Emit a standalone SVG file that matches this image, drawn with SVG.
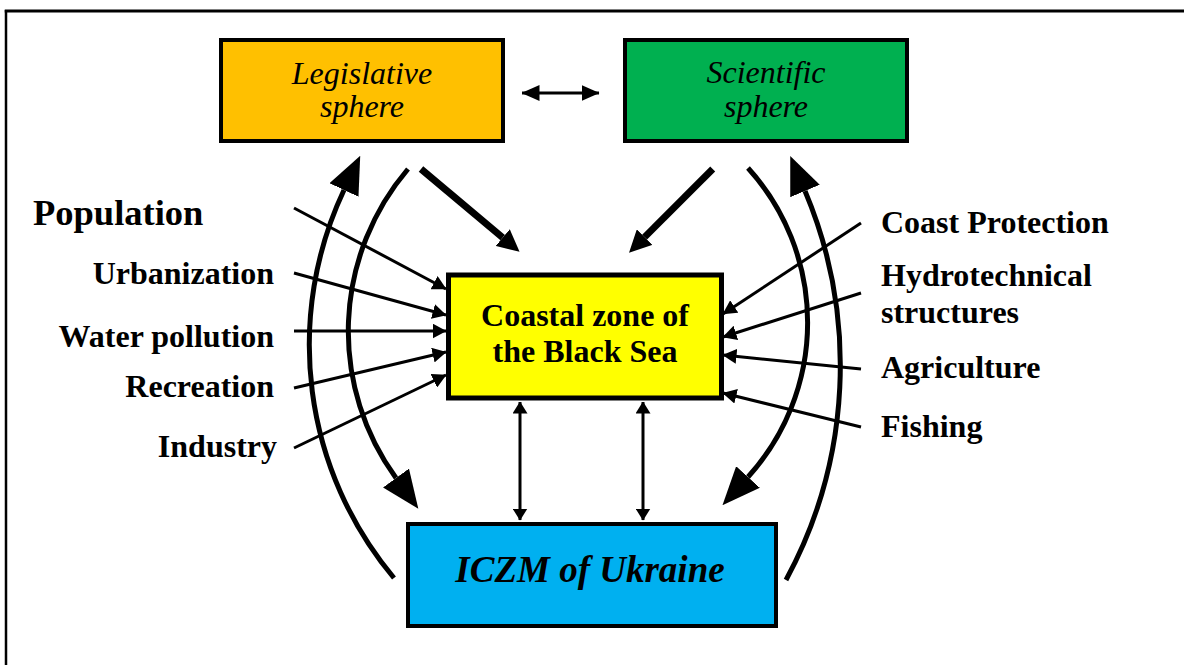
<svg xmlns="http://www.w3.org/2000/svg" width="1184" height="665" viewBox="0 0 1184 665">
<style>
.box{stroke:#000;stroke-width:4}
.it{font-family:"Liberation Serif","Times New Roman",serif;font-style:italic;font-size:32px;fill:#000}
.lb{font-family:"Liberation Serif","Times New Roman",serif;font-weight:bold;font-size:32px;fill:#000}
.big{font-size:36.5px}
.thin{fill:none;stroke:#000;stroke-width:3}
.curve{fill:none;stroke:#000;stroke-width:5}
.thick{fill:none;stroke:#000;stroke-width:7}
</style>
<defs>
<marker id="ah" viewBox="0 0 14 15" refX="13.5" refY="7.5" markerWidth="14" markerHeight="15" markerUnits="userSpaceOnUse" orient="auto-start-reverse"><path d="M0,0 L14,7.5 L0,15 z"/></marker>
<marker id="ahm" viewBox="0 0 18 16" refX="17.5" refY="8" markerWidth="18" markerHeight="16" markerUnits="userSpaceOnUse" orient="auto-start-reverse"><path d="M0,0 L18,8 L0,16 z"/></marker>
<marker id="ahv" viewBox="0 0 12 15" refX="11.5" refY="7.5" markerWidth="12" markerHeight="15" markerUnits="userSpaceOnUse" orient="auto-start-reverse"><path d="M0,0 L12,7.5 L0,15 z"/></marker>
<marker id="aht" viewBox="0 0 22 22" refX="0" refY="11" markerWidth="22" markerHeight="22" markerUnits="userSpaceOnUse" orient="auto"><path d="M0,0 L22,11 L0,22 z"/></marker>
<marker id="ahb" viewBox="0 0 38 32" refX="0" refY="16" markerWidth="38" markerHeight="32" markerUnits="userSpaceOnUse" orient="auto"><path d="M0,0 L38,16 L0,32 z"/></marker>
</defs>
<rect width="1184" height="665" fill="#fff"/>
<g id="frame">
<line x1="6" y1="10" x2="6" y2="670" stroke="#000" stroke-width="2.5"/>
<line x1="4.75" y1="11" x2="1190" y2="11" stroke="#000" stroke-width="3"/>
</g>
<g id="connectors">
<path class="thin" d="M522,93 L599,93" marker-start="url(#ahm)" marker-end="url(#ahm)"/>
<path class="thick" d="M421,169 L502.7,237.6" marker-end="url(#aht)"/>
<path class="thick" d="M712.7,169 L644.6,237.1" marker-end="url(#aht)"/>
<path class="curve" d="M394,578 A363,363 0 0 1 344,190" marker-end="url(#ahb)"/>
<path class="curve" d="M786,580 A450,450 0 0 0 805,191" marker-end="url(#ahb)"/>
<path class="curve" d="M408,169 A250,250 0 0 0 396,478" marker-end="url(#ahb)"/>
<path class="curve" d="M748,168 A230,230 0 0 1 748,477" marker-end="url(#ahb)"/>
<path class="thin" d="M294,208 L446,289" marker-end="url(#ah)"/>
<path class="thin" d="M294,273 L446,315" marker-end="url(#ah)"/>
<path class="thin" d="M294,331 L446,331" marker-end="url(#ah)"/>
<path class="thin" d="M294,388 L446,352" marker-end="url(#ah)"/>
<path class="thin" d="M294,448 L446,375" marker-end="url(#ah)"/>
<path class="thin" d="M861,223 L723,314" marker-end="url(#ah)"/>
<path class="thin" d="M861,293 L723,337" marker-end="url(#ah)"/>
<path class="thin" d="M861,369 L723,355" marker-end="url(#ah)"/>
<path class="thin" d="M861,427 L723,393" marker-end="url(#ah)"/>
<path class="thin" d="M520,402 L520,520" marker-start="url(#ahv)" marker-end="url(#ahv)"/>
<path class="thin" d="M643,402 L643,520" marker-start="url(#ahv)" marker-end="url(#ahv)"/>
</g>
<g id="legislative">
<rect class="box" x="221" y="40" width="282" height="101" fill="#FFC000"/>
<text class="it" x="362" y="84" text-anchor="middle">Legislative</text>
<text class="it" x="362" y="117" text-anchor="middle">sphere</text>
</g>
<g id="scientific">
<rect class="box" x="625" y="40" width="282" height="101" fill="#00B050"/>
<text class="it" x="766" y="83" text-anchor="middle">Scientific</text>
<text class="it" x="766" y="117" text-anchor="middle">sphere</text>
</g>
<g id="coastal">
<rect x="448.5" y="275" width="273" height="123" fill="#FFFF00" stroke="#000" stroke-width="5"/>
<text class="lb" x="585" y="326" text-anchor="middle">Coastal zone of</text>
<text class="lb" x="585" y="362" text-anchor="middle">the Black Sea</text>
</g>
<g id="iczm">
<rect class="box" x="408" y="524" width="368" height="102" fill="#00B0F0"/>
<text x="590" y="582" text-anchor="middle" font-family="Liberation Serif, Times New Roman, serif" font-weight="bold" font-style="italic" font-size="37">ICZM of Ukraine</text>
</g>
<g id="population"><text class="lb big" x="33" y="225">Population</text></g>
<g id="urbanization"><text class="lb" x="274" y="284" text-anchor="end">Urbanization</text></g>
<g id="water-pollution"><text class="lb" x="274" y="347" text-anchor="end">Water pollution</text></g>
<g id="recreation"><text class="lb" x="274" y="397" text-anchor="end">Recreation</text></g>
<g id="industry"><text class="lb" x="277" y="457" text-anchor="end">Industry</text></g>
<g id="coast-protection"><text class="lb" x="881" y="233">Coast Protection</text></g>
<g id="hydrotechnical"><text class="lb" x="881" y="286">Hydrotechnical</text><text class="lb" x="881" y="323">structures</text></g>
<g id="agriculture"><text class="lb" x="881" y="378">Agriculture</text></g>
<g id="fishing"><text class="lb" x="881" y="437">Fishing</text></g>
</svg>
